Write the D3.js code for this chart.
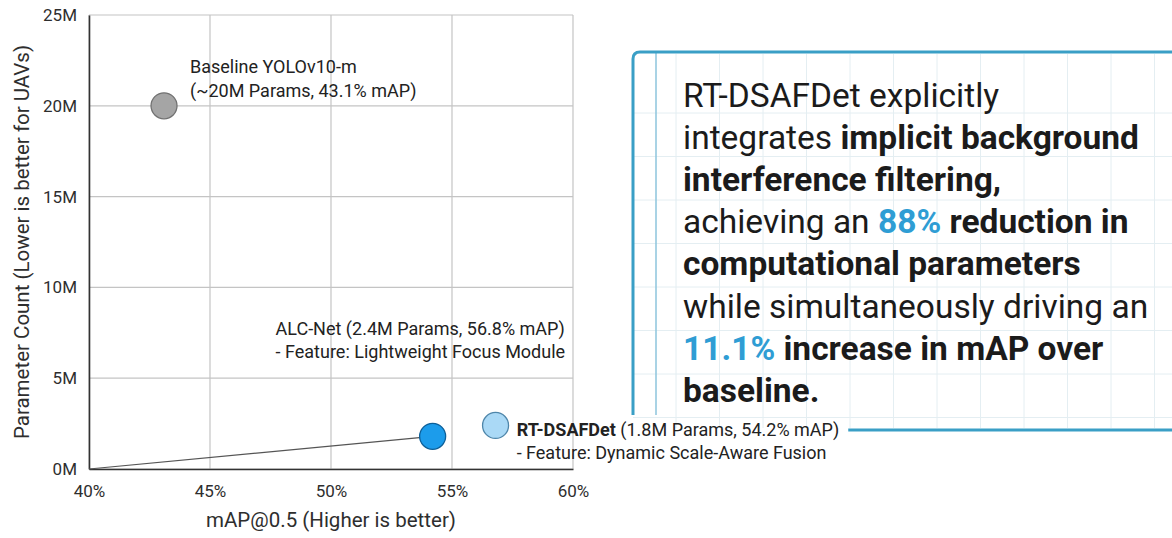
<!DOCTYPE html>
<html>
<head>
<meta charset="utf-8">
<script src="https://cdn.jsdelivr.net/npm/d3@7/dist/d3.min.js"></script>
<style>
  html, body { margin: 0; padding: 0; background: #ffffff; }
  svg { display: block; font-family: Roboto, "Noto Sans", sans-serif; }
</style>
</head>
<body>
<svg id="chart" width="1172" height="538"></svg>
<script>
// ---- data ----
const models = ["Baseline YOLOv10-m", "ALC-Net", "RT-DSAFDet"];
const mapScores = [43.1, 56.8, 54.2];        // mAP@0.5, %
const paramsMillions = [20, 2.4, 1.8];       // parameter count, millions
const approxFlags = [true, false, false];    // params quoted as approximate
const features = ["", "Lightweight Focus Module", "Dynamic Scale-Aware Fusion"];
const xTickValues = [40, 45, 50, 55, 60];
const yTickValues = [0, 5, 10, 15, 20, 25];

// ---- styling per model ----
const markStyle = [
  { fill: "#a5a5a5", stroke: "#727272" },
  { fill: "#aad9f6", stroke: "#4e86aa" },
  { fill: "#1c9ceb", stroke: "#0d5f98" }
];

const svg = d3.select("#chart");
const W = 1172, H = 538;
svg.append("rect").attr("width", W).attr("height", H).attr("fill", "#ffffff");

const plot = { left: 89, right: 573, top: 15, bottom: 469 };
const x = d3.scaleLinear().domain([40, 60]).range([plot.left, plot.right]);
const y = d3.scaleLinear().domain([0, 25]).range([plot.bottom, plot.top]);

// ---- callout panel with ruled grid ----
const panel = { left: 633, top: 52, right: 1176, bottom: 430, sideEnd: 415 };
const gridG = svg.append("g");
const gridStep = 43.5;
for (let gx = 676; gx < W; gx += gridStep) {
  gridG.append("line").attr("x1", gx).attr("x2", gx)
    .attr("y1", panel.top + 2).attr("y2", panel.bottom - 2)
    .attr("stroke", "#e4eef2").attr("stroke-width", 1);
}
for (let gy = 113; gy < panel.bottom - 4; gy += gridStep) {
  gridG.append("line").attr("x1", panel.left).attr("x2", W)
    .attr("y1", gy).attr("y2", gy)
    .attr("stroke", "#e4eef2").attr("stroke-width", 1);
}
// margin rule
svg.append("line").attr("x1", 656).attr("x2", 656)
  .attr("y1", panel.top + 1).attr("y2", panel.sideEnd)
  .attr("stroke", "#8cc5dc").attr("stroke-width", 1.5);
// outer border (open at the lower left)
const r = 7;
svg.append("path")
  .attr("d", `M${panel.left},${panel.sideEnd} L${panel.left},${panel.top + r} Q${panel.left},${panel.top} ${panel.left + r},${panel.top} L${panel.right},${panel.top}`)
  .attr("fill", "none").attr("stroke", "#3a9fc6").attr("stroke-width", 3);

// panel text
const insightLines = [
  [{ t: "RT-DSAFDet explicitly" }],
  [{ t: "integrates " }, { t: "implicit background", b: true }],
  [{ t: "interference filtering,", b: true }],
  [{ t: "achieving an " }, { t: "88%", b: true, hl: true }, { t: " reduction in", b: true }],
  [{ t: "computational parameters", b: true }],
  [{ t: "while simultaneously driving an" }],
  [{ t: "11.1%", b: true, hl: true }, { t: " increase in mAP over", b: true }],
  [{ t: "baseline.", b: true }]
];
const textG = svg.append("g");
insightLines.forEach((segs, i) => {
  const t = textG.append("text")
    .attr("x", 683).attr("y", 107 + i * 42.1)
    .attr("font-size", 33.5).attr("fill", "#1b1b1b");
  segs.forEach(s => {
    t.append("tspan").text(s.t)
      .attr("font-weight", s.b ? 700 : 400)
      .attr("fill", s.hl ? "#2f9dd4" : "#1b1b1b");
  });
});

// ---- chart grid ----
const grid = svg.append("g");
grid.selectAll("line.vx").data(xTickValues).join("line")
  .attr("x1", d => x(d)).attr("x2", d => x(d))
  .attr("y1", y(25)).attr("y2", y(0))
  .attr("stroke", "#c4c4c4").attr("stroke-width", 1.2);
grid.selectAll("line.hy").data(yTickValues).join("line")
  .attr("x1", x(40)).attr("x2", x(60))
  .attr("y1", d => y(d)).attr("y2", d => y(d))
  .attr("stroke", "#c4c4c4").attr("stroke-width", 1.2);

// axes
const xAxis = d3.axisBottom(x).tickValues(xTickValues).tickFormat(d => d + "%").tickSize(0).tickPadding(16);
const yAxis = d3.axisLeft(y).tickValues(yTickValues).tickFormat(d => d + "M").tickSize(0).tickPadding(12);
const gx = svg.append("g").attr("transform", `translate(0,${plot.bottom})`).call(xAxis);
const gy = svg.append("g").attr("transform", `translate(${plot.left},0)`).call(yAxis);
[gx, gy].forEach(g => {
  g.select(".domain").attr("stroke", "#333").attr("stroke-width", 1.6);
  g.selectAll("text").attr("font-size", 17).attr("fill", "#2e2e2e")
    .attr("font-family", "Roboto, sans-serif");
});

// axis titles
svg.append("text").attr("x", (plot.left + plot.right) / 2).attr("y", 527)
  .attr("text-anchor", "middle").attr("font-size", 20.5).attr("fill", "#2e2e2e")
  .text("mAP@0.5 (Higher is better)");
svg.append("text")
  .attr("transform", `translate(29,${(plot.top + plot.bottom) / 2}) rotate(-90)`)
  .attr("text-anchor", "middle").attr("font-size", 20.5).attr("fill", "#2e2e2e")
  .text("Parameter Count (Lower is better for UAVs)");

// ---- trend line from the origin to RT-DSAFDet ----
const rtIdx = 2;
svg.append("line")
  .attr("x1", x(40)).attr("y1", y(0))
  .attr("x2", x(mapScores[rtIdx])).attr("y2", y(paramsMillions[rtIdx]))
  .attr("stroke", "#555").attr("stroke-width", 1.2);

// ---- points ----
svg.selectAll("circle.model").data(models).join("circle")
  .attr("cx", (d, i) => x(mapScores[i]))
  .attr("cy", (d, i) => y(paramsMillions[i]))
  .attr("r", 13)
  .attr("fill", (d, i) => markStyle[i].fill)
  .attr("stroke", (d, i) => markStyle[i].stroke)
  .attr("stroke-width", 1.3);

// ---- annotations ----
const statText = i => `${approxFlags[i] ? "~" : ""}${paramsMillions[i]}M Params, ${mapScores[i]}% mAP`;
const labelOffsets = [
  { dx: 26, dy: -33, gap: 24 },
  { dx: -220, dy: -90, gap: 23 },
  { dx: 84, dy: 0, gap: 23 }
];
const ann = svg.append("g").attr("font-size", 18).attr("fill", "#222");
let rtLabelEnd = 0;
models.forEach((m, i) => {
  const px = x(mapScores[i]) + labelOffsets[i].dx;
  const py = y(paramsMillions[i]) + labelOffsets[i].dy;
  if (i === 0) {
    ann.append("text").attr("x", px).attr("y", py).text(m);
    ann.append("text").attr("x", px).attr("y", py + labelOffsets[i].gap).text(`(${statText(i)})`);
  } else {
    const t = ann.append("text").attr("x", px).attr("y", py);
    t.append("tspan").attr("font-weight", i === rtIdx ? 700 : 400).text(m);
    t.append("tspan").text(` (${statText(i)})`);
    ann.append("text").attr("x", px).attr("y", py + labelOffsets[i].gap)
      .text(`- Feature: ${features[i]}`);
    if (i === rtIdx) rtLabelEnd = px + t.node().getComputedTextLength();
  }
});

// connector from the RT-DSAFDet label into the panel
svg.append("line")
  .attr("x1", rtLabelEnd + 9).attr("x2", panel.right)
  .attr("y1", panel.bottom).attr("y2", panel.bottom)
  .attr("stroke", "#3a9fc6").attr("stroke-width", 3);
</script>
</body>
</html>
